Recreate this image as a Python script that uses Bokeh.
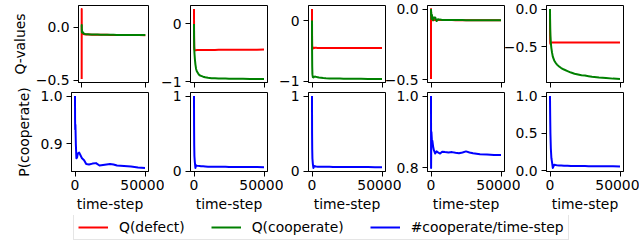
from bokeh.plotting import figure
from bokeh.layouts import row, column
from bokeh.models import Range1d, FixedTicker, Legend, LegendItem
from bokeh.embed import file_html
from bokeh.resources import INLINE

# ---------------- data ----------------
time_step = [0, 20, 60, 150, 300, 600, 1000, 1500, 2000, 3000, 4000, 5000, 6500, 8000,
             10000, 12500, 15000, 17500, 20000, 22500, 25000, 27500, 30000, 35000,
             40000, 45000, 50000]

q_defect_1 = [-0.49, 0.17, -0.03, -0.06, -0.05, -0.06, -0.062, -0.066, -0.068, -0.07, -0.071,
              -0.07, -0.071, -0.072, -0.072, -0.072, -0.073, -0.073, -0.073, -0.074, -0.074,
              -0.074, -0.075, -0.075, -0.076, -0.076, -0.077]
q_coop_1 = [0.0, 0.02, -0.02, -0.05, -0.035, -0.055, -0.05, -0.06, -0.064, -0.067, -0.069,
            -0.068, -0.07, -0.071, -0.071, -0.071, -0.072, -0.072, -0.072, -0.073, -0.073,
            -0.074, -0.074, -0.075, -0.075, -0.076, -0.076]

q_defect_2 = [0.26, 0.1, -0.2, -0.4, -0.44, -0.455, -0.455, -0.454, -0.453, -0.453, -0.452,
              -0.452, -0.451, -0.451, -0.45, -0.45, -0.45, -0.449, -0.449, -0.448, -0.448,
              -0.448, -0.447, -0.447, -0.446, -0.446, -0.445]
q_coop_2 = [0.0, -0.1, -0.25, -0.4, -0.5, -0.6, -0.7, -0.78, -0.82, -0.86, -0.89, -0.9,
            -0.915, -0.925, -0.935, -0.94, -0.943, -0.945, -0.946, -0.948, -0.949, -0.95,
            -0.951, -0.952, -0.953, -0.954, -0.955]

q_defect_3 = [0.19, 0.0, -0.3, -0.46, -0.47, -0.45, -0.448, -0.45, -0.447, -0.448, -0.449,
              -0.45, -0.449, -0.449, -0.449, -0.449, -0.45, -0.45, -0.45, -0.45, -0.45,
              -0.45, -0.45, -0.45, -0.45, -0.45, -0.45]
q_coop_3 = [0.0, -0.2, -0.5, -0.75, -0.88, -0.93, -0.935, -0.925, -0.92, -0.925, -0.93,
            -0.935, -0.94, -0.945, -0.948, -0.95, -0.951, -0.952, -0.953, -0.954, -0.955,
            -0.955, -0.956, -0.957, -0.958, -0.959, -0.96]

q_defect_4 = [-0.495, 0.0, -0.04, -0.08, -0.065, -0.075, -0.078, -0.08, -0.076, -0.078,
              -0.077, -0.078, -0.077, -0.078, -0.078, -0.078, -0.078, -0.079, -0.078, -0.079,
              -0.079, -0.079, -0.08, -0.08, -0.08, -0.08, -0.08]
q_coop_4 = [0.0, -0.01, -0.05, -0.02, -0.07, -0.04, -0.06, -0.08, -0.06, -0.06, -0.085,
            -0.072, -0.075, -0.077, -0.077, -0.077, -0.078, -0.078, -0.078, -0.078, -0.079,
            -0.079, -0.079, -0.08, -0.08, -0.08, -0.08]

q_defect_5 = [0.0, -0.1, -0.3, -0.44, -0.46, -0.45, -0.445, -0.444, -0.443, -0.443, -0.443,
              -0.443, -0.443, -0.443, -0.443, -0.443, -0.443, -0.443, -0.443, -0.443, -0.443,
              -0.443, -0.443, -0.443, -0.443, -0.443, -0.443]
q_coop_5 = [0.0, -0.05, -0.15, -0.25, -0.35, -0.45, -0.52, -0.58, -0.63, -0.68, -0.71,
            -0.735, -0.76, -0.78, -0.8, -0.82, -0.84, -0.855, -0.865, -0.875, -0.88, -0.888,
            -0.895, -0.905, -0.912, -0.92, -0.925]

coop_rate_1 = [1.0, 0.98, 0.95, 0.93, 0.94, 0.9, 0.87, 0.872, 0.88, 0.882, 0.876, 0.87, 0.866,
               0.858, 0.857, 0.859, 0.86, 0.855, 0.856, 0.857, 0.858, 0.857, 0.855, 0.854,
               0.853, 0.851, 0.85]
coop_rate_2 = [1.0, 0.85, 0.6, 0.35, 0.2, 0.12, 0.045, 0.08, 0.075, 0.072, 0.07, 0.068, 0.066,
               0.064, 0.062, 0.061, 0.06, 0.06, 0.059, 0.059, 0.058, 0.058, 0.058, 0.057,
               0.057, 0.056, 0.055]
coop_rate_3 = [1.0, 0.8, 0.5, 0.3, 0.17, 0.1, 0.045, 0.07, 0.066, 0.063, 0.062, 0.061, 0.06,
               0.06, 0.059, 0.059, 0.058, 0.058, 0.058, 0.057, 0.057, 0.057, 0.056, 0.056,
               0.056, 0.055, 0.055]
coop_rate_4 = [1.0, 0.95, 0.8, 0.86, 0.9, 0.88, 0.875, 0.86, 0.85, 0.84, 0.846, 0.843, 0.84,
               0.845, 0.844, 0.843, 0.844, 0.842, 0.841, 0.843, 0.846, 0.843, 0.841, 0.838,
               0.837, 0.836, 0.836]
coop_rate_5 = [1.0, 0.95, 0.85, 0.7, 0.5, 0.3, 0.17, 0.11, 0.04, 0.082, 0.078, 0.075, 0.073,
               0.072, 0.07, 0.068, 0.067, 0.066, 0.065, 0.064, 0.064, 0.063, 0.063, 0.062,
               0.062, 0.061, 0.06]

q_defect = [q_defect_1, q_defect_2, q_defect_3, q_defect_4, q_defect_5]
q_coop = [q_coop_1, q_coop_2, q_coop_3, q_coop_4, q_coop_5]
coop_rate = [coop_rate_1, coop_rate_2, coop_rate_3, coop_rate_4, coop_rate_5]

x_ticks = [0, 50000]
x_tick_labels = ["0", "50000"]
top_ticks = [[-0.5, 0.0], [-1, 0], [-1, 0], [-0.5, 0.0], [-0.5, 0.0]]
top_tick_labels = [["\u22120.5", "0.0"], ["\u22121", "0"], ["\u22121", "0"],
                   ["\u22120.5", "0.0"], ["\u22120.5", "0.0"]]
bottom_ticks = [[0.9, 1.0], [0, 1], [0, 1], [0.8, 1.0], [0.0, 0.5, 1.0]]
bottom_tick_labels = [["0.9", "1.0"], ["0", "1"], ["0", "1"], ["0.8", "1.0"],
                      ["0.0", "0.5", "1.0"]]

series_names = ["Q(defect)", "Q(cooperate)", "#cooperate/time-step"]
series_colors = ["red", "green", "blue"]

# ---------------- styling ----------------
FONT = "DejaVu Sans"
FS = "13.9px"
FRAME_W = 77
LB, RB = 63, 16
col_shift = [0, -37, -38, -37, -37]


def padded_range(lists):
    lo = min(min(v) for v in lists)
    hi = max(max(v) for v in lists)
    pad = (hi - lo) * 0.05
    return Range1d(lo - pad, hi + pad)


def style_axis(ax, ticks, labels, standoff):
    ax.ticker = FixedTicker(ticks=ticks)
    ax.major_label_overrides = {t: s for t, s in zip(ticks, labels)}
    ax.minor_tick_in = 0
    ax.minor_tick_out = 0
    ax.major_tick_in = 0
    ax.major_tick_out = 5
    ax.major_tick_line_color = "black"
    ax.axis_line_color = "black"
    ax.major_label_standoff = standoff
    ax.major_label_text_font = FONT
    ax.major_label_text_font_size = FS
    ax.major_label_text_color = "black"
    ax.axis_label_text_font = FONT
    ax.axis_label_text_font_size = FS
    ax.axis_label_text_font_style = "normal"
    ax.axis_label_text_color = "black"


def make_panel(col, ys_list, colors, yt, ytl, top_row, ylabel):
    if top_row:
        mbt, fh, mbb, mtop = 5, 77, 12, 0
    else:
        mbt, fh, mbb, mtop = 5, 79, 44, 0
    p = figure(width=LB + FRAME_W + RB, height=mbt + fh + mbb,
               output_backend="svg", toolbar_location=None,
               x_range=padded_range([time_step]), y_range=padded_range(ys_list),
               min_border_left=LB, min_border_right=RB,
               min_border_top=mbt, min_border_bottom=mbb,
               border_fill_color=None, background_fill_color="white",
               outline_line_color="black", outline_line_alpha=1.0, outline_line_width=1,
               margin=(mtop, 0, 0, col_shift[col]))
    p.xgrid.visible = False
    p.ygrid.visible = False
    for ys, c in zip(ys_list, colors):
        p.line(time_step, ys, line_color=c, line_width=2, line_join="round")
    xa = p.xaxis[0]
    ya = p.yaxis[0]
    style_axis(ya, yt, ytl, 4)
    style_axis(xa, x_ticks, x_tick_labels, 3)
    if top_row:
        xa.major_label_text_font_size = "0px"
        xa.major_label_text_color = None
        xa.major_label_standoff = 0
    else:
        xa.axis_label = "time-step"
        xa.axis_label_standoff = 3
    if ylabel:
        ya.axis_label = ylabel
        ya.axis_label_standoff = 5
    return p


top_figs = []
bottom_figs = []
for i in range(5):
    top_figs.append(make_panel(i, [q_defect[i], q_coop[i]], series_colors[:2],
                               top_ticks[i], top_tick_labels[i], True,
                               "Q-values" if i == 0 else None))
    bottom_figs.append(make_panel(i, [coop_rate[i]], series_colors[2:],
                                  bottom_ticks[i], bottom_tick_labels[i], False,
                                  "P(cooperate)" if i == 0 else None))

# legend strip (its lines lie outside its own view; only the legend is seen)
lf = figure(width=620, height=26, output_backend="svg", toolbar_location=None,
            x_axis_type=None, y_axis_type=None, x_range=Range1d(-3, -2),
            y_range=Range1d(-3, -2),
            min_border=0, outline_line_color=None, border_fill_color=None,
            background_fill_color=None)
lf.xgrid.visible = False
lf.ygrid.visible = False
items = []
for name, c, ys in zip(series_names, series_colors, [q_defect_1, q_coop_1, coop_rate_1]):
    r = lf.line(time_step, ys, line_color=c, line_width=2)
    items.append(LegendItem(label=name, renderers=[r]))
leg = Legend(items=items, orientation="horizontal", location=(65, 1), padding=4, spacing=26,
             glyph_width=30, glyph_height=16, label_height=16, label_standoff=11,
             label_text_font=FONT, label_text_font_size=FS, label_text_color="black",
             border_line_color="#cccccc", border_line_width=1, background_fill_color="white",
             background_fill_alpha=1.0, margin=0)
lf.add_layout(leg, "center")

top_row = row(*top_figs)
bottom_row = row(*bottom_figs, margin=(-7, 0, 0, 0))
layout = column(top_row, bottom_row, lf, margin=(0, 0, 0, 8))

open("out.html", "w").write(file_html(layout, INLINE))
